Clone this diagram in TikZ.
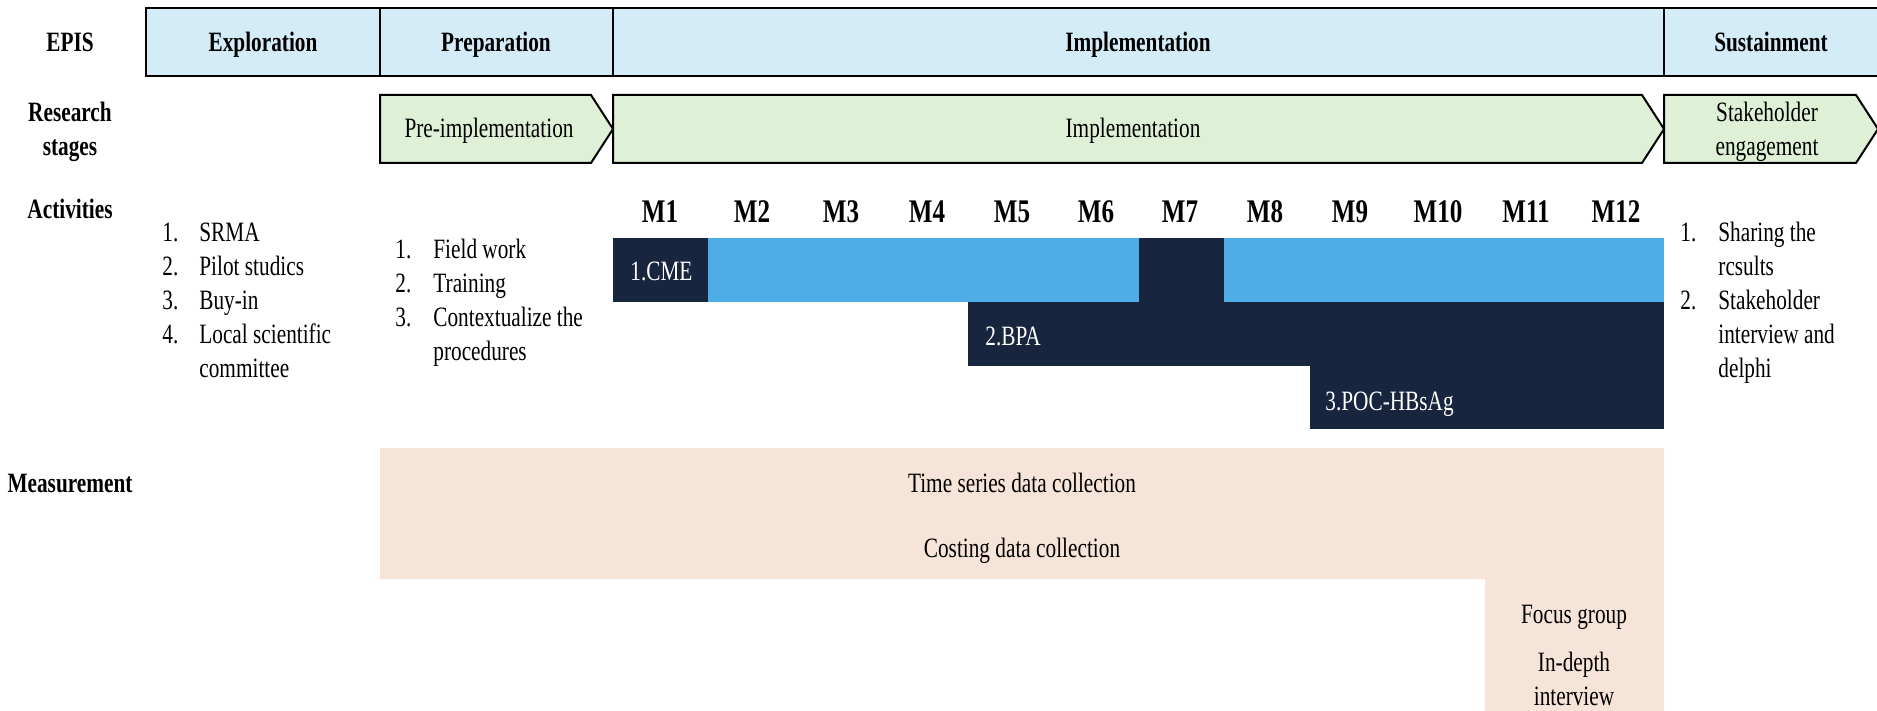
\documentclass[tikz,border=0pt]{standalone}
\usepackage{fontspec}
\setmainfont{Liberation Serif}[FakeStretch=0.76]
\definecolor{episblue}{HTML}{D4ECF8}
\definecolor{stagegreen}{HTML}{DEF0D6}
\definecolor{navybar}{HTML}{17263E}
\definecolor{skybar}{HTML}{4EACE6}
\definecolor{peachbg}{HTML}{F6E4D8}
\newcommand{\mytabl}[1]{\begin{tabular}[t]{@{}l@{}}#1\end{tabular}}
\newcommand{\mytabc}[1]{\begin{tabular}[t]{@{}c@{}}#1\end{tabular}}
\newcommand{\numa}[1]{\makebox[18.5pt][l]{#1}}
\newcommand{\numb}[1]{\makebox[19pt][l]{#1}}
\begin{document}
\begin{tikzpicture}[x=0.5pt,y=-0.5pt,
  episbox/.style={draw=black,line width=1pt,fill=episblue},
  stagebox/.style={draw=black,line width=1pt,fill=stagegreen,line join=miter},
  darkbar/.style={fill=navybar},
  lightbar/.style={fill=skybar},
  measfill/.style={fill=peachbg},
  rowlbl/.style={font=\bfseries\fontsize{14}{17}\selectfont,anchor=base,inner sep=0pt},
  plaintext/.style={font=\fontsize{14}{17}\selectfont,anchor=base,inner sep=0pt},
  monthlbl/.style={font=\bfseries\fontsize{16.5}{20}\selectfont,anchor=base,inner sep=0pt},
  bartext/.style={font=\fontsize{14}{17}\selectfont,anchor=base west,inner sep=0pt,text=white},
  listtext/.style={font=\fontsize{14}{17}\selectfont,anchor=base west,inner sep=0pt}]
\useasboundingbox (0,0) rectangle (1877,711);

% ---- EPIS row ----
\draw[episbox] (146,8) rectangle (380,76);
\draw[episbox] (380,8) rectangle (613,76);
\draw[episbox] (613,8) rectangle (1664,76);
\draw[episbox] (1664,8) rectangle (1895,76);
\node[rowlbl] (epis) at (70,52) {EPIS};
\node[rowlbl] (explo) at (263,52) {Exploration};
\node[rowlbl] (prep) at (496,52) {Preparation};
\node[rowlbl] (impl) at (1138,52) {Implementation};
\node[rowlbl] (sust) at (1771,52) {Sustainment};

% ---- Research stages row ----
\node[rowlbl] (rs) at (70,122) {\mytabc{Research\\stages}};
\draw[stagebox] (380,95) -- (591,95) -- (613,129) -- (591,163) -- (380,163) -- cycle;
\draw[stagebox] (613,95) -- (1642,95) -- (1664,129) -- (1642,163) -- (613,163) -- cycle;
\draw[stagebox] (1664,95) -- (1856,95) -- (1878,129) -- (1856,163) -- (1664,163) -- cycle;
\node[plaintext] (preimpl) at (489,138) {Pre-implementation};
\node[plaintext] (implst) at (1133,138) {Implementation};
\node[plaintext] (stake) at (1767,122) {\mytabc{Stakeholder\\engagement}};

% ---- Activities ----
\node[rowlbl] (act) at (70,219) {Activities};
\foreach \i/\x in {1/660,2/752,3/841,4/927,5/1012,6/1096,7/1180,8/1265,9/1350,10/1438,11/1526,12/1616}
  \node[monthlbl] (m\i) at (\x,222) {M\i};

\fill[darkbar]  (613,238) rectangle (708,302);
\fill[lightbar] (708,238) rectangle (1139,302);
\fill[darkbar]  (1139,238) rectangle (1224,302);
\fill[lightbar] (1224,238) rectangle (1664,302);
\fill[darkbar]  (968,302) rectangle (1664,366);
\fill[darkbar]  (1310,366) rectangle (1664,429);
\node[bartext] (cme) at (630,280) {1.CME};
\node[bartext] (bpa) at (985,345) {2.BPA};
\node[bartext] (poc) at (1325,410) {3.POC-HBsAg};

\node[listtext] (explist) at (162,242) {\mytabl{\numa{1.}SRMA\\ \numa{2.}Pilot studics\\ \numa{3.}Buy-in\\ \numa{4.}Local scientific\\ \numa{}committee}};
\node[listtext] (preplist) at (395,258) {\mytabl{\numb{1.}Field work\\ \numb{2.}Training\\ \numb{3.}Contextualize the\\ \numb{}procedures}};
\node[listtext] (sustlist) at (1680,242) {\mytabl{\numb{1.}Sharing the\\ \numb{}rcsults\\ \numb{2.}Stakeholder\\ \numb{}interview and\\ \numb{}delphi}};

% ---- Measurement ----
\node[rowlbl] (meas) at (70,492) {Measurement};
\fill[measfill] (380,448) -- (1664,448) -- (1664,711) -- (1485,711) -- (1485,579) -- (380,579) -- cycle;
\node[plaintext] (tsdc) at (1022,492) {Time series data collection};
\node[plaintext] (cdc) at (1022,557) {Costing data collection};
\node[plaintext] (fg) at (1574,623) {Focus group};
\node[plaintext] (idi) at (1574,671) {\mytabc{In-depth\\interview}};
\end{tikzpicture}
\end{document}
